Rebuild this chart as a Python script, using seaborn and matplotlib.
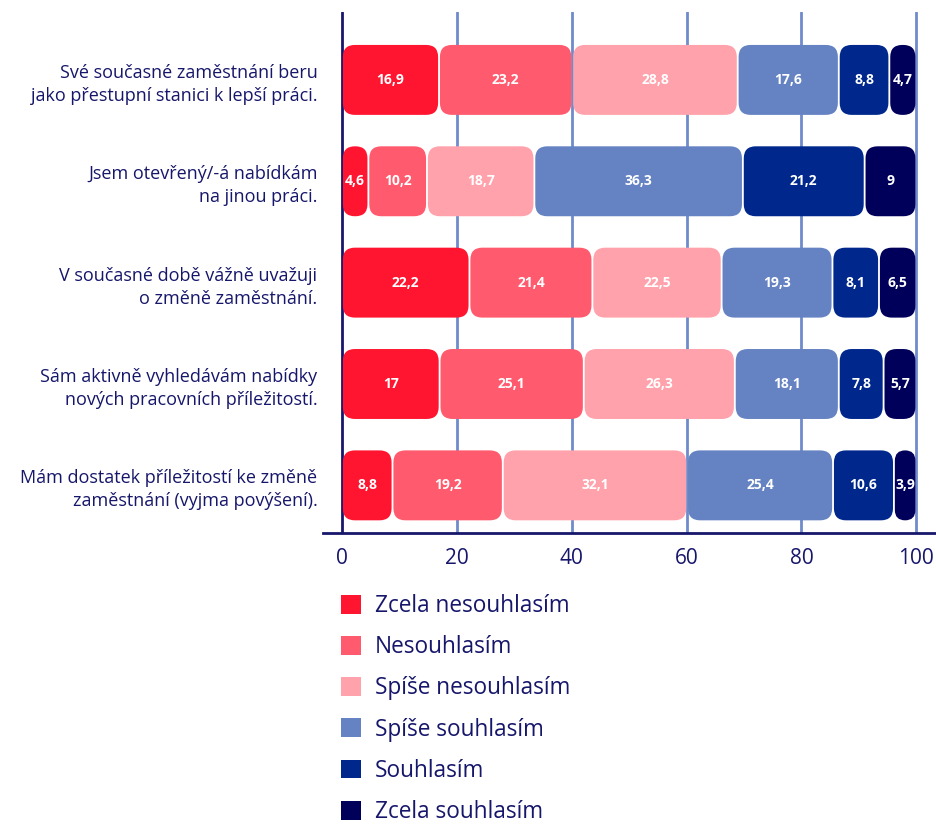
import matplotlib
matplotlib.use("Agg")
import matplotlib.pyplot as plt
from matplotlib.patches import FancyBboxPatch, Patch
import seaborn as sns
import pandas as pd
import numpy as np

categories = [
    "Své současné zaměstnání beru\njako přestupní stanici k lepší práci.",
    "Jsem otevřený/-á nabídkám\nna jinou práci.",
    "V současné době vážně uvažuji\no změně zaměstnání.",
    "Sám aktivně vyhledávám nabídky\nnových pracovních příležitostí.",
    "Mám dostatek příležitostí ke změně\nzaměstnání (vyjma povýšení).",
]
series = ["Zcela nesouhlasím", "Nesouhlasím", "Spíše nesouhlasím",
          "Spíše souhlasím", "Souhlasím", "Zcela souhlasím"]
zcela_nesouhlasim = [16.9, 4.6, 22.2, 17.0, 8.8]
nesouhlasim = [23.2, 10.2, 21.4, 25.1, 19.2]
spise_nesouhlasim = [28.8, 18.7, 22.5, 26.3, 32.1]
spise_souhlasim = [17.6, 36.3, 19.3, 18.1, 25.4]
souhlasim = [8.8, 21.2, 8.1, 7.8, 10.6]
zcela_souhlasim = [4.7, 9.0, 6.5, 5.7, 3.9]
values = [zcela_nesouhlasim, nesouhlasim, spise_nesouhlasim,
          spise_souhlasim, souhlasim, zcela_souhlasim]
colors = ["#FF1530", "#FF5A6D", "#FFA2AC", "#6583C2", "#00288C", "#00005A"]
xticks = [0, 20, 40, 60, 80, 100]

NAVY = "#16166B"
GRID = "#6F8BCB"

sns.set_theme(style="white")
plt.rcParams["font.family"] = ["Open Sans", "DejaVu Sans"]

fig = plt.figure(figsize=(9.37, 8.25), dpi=100)
ax = fig.add_axes([323 / 937, 1 - 533 / 825, 614 / 937, 521 / 825])

# cumulative stacked values drawn via seaborn
cum = np.cumsum(np.array(values), axis=0)
seg_patches = []
bar_h = 0.69
for i in range(len(series)):
    df = pd.DataFrame({"cat": categories, "val": cum[i]})
    n0 = len(ax.patches)
    sns.barplot(data=df, x="val", y="cat", orient="h", color=colors[i],
                width=bar_h, ax=ax, order=categories, saturation=1)
    seg_patches.append(list(ax.patches[n0:]))

# replace rectangles with rounded segments
px_per_x = 574.0 / 100.0
px_per_y = 101.25
rad_px = 12.0
gap = 0.16
new = []
for i, plist in enumerate(seg_patches):
    for j, p in enumerate(plist):
        right = p.get_x() + p.get_width()
        left = 0.0 if i == 0 else (seg_patches[i - 1][j].get_x() + seg_patches[i - 1][j].get_width())
        y = p.get_y()
        h = p.get_height()
        x0 = left + gap
        w = (right - left) - 2 * gap
        r = min(rad_px / px_per_x, w / 2.0)
        aspect = (rad_px / px_per_y) / (rad_px / px_per_x)
        fb = FancyBboxPatch((x0, y), w, h,
                            boxstyle=f"round,pad=0,rounding_size={r}",
                            mutation_aspect=aspect,
                            facecolor=colors[i], edgecolor="none", zorder=3)
        new.append(fb)
        val = values[i][j]
        txt = (f"{val:g}").replace(".", ",")
        ax.text(left + (right - left) / 2, y + h / 2, txt, ha="center", va="center",
                color="white", fontsize=10, fontweight="bold", zorder=4)
for plist in seg_patches:
    for p in plist:
        p.remove()
for fb in new:
    ax.add_patch(fb)

ax.set_xlim(-3.3, 103.6)
ax.set_ylim(4.47, -0.67)

for xv in xticks[1:]:
    ax.axvline(xv, color=GRID, lw=2, zorder=1)
ax.axvline(0, color=NAVY, lw=2, zorder=2)

for s in ["top", "right", "left"]:
    ax.spines[s].set_visible(False)
ax.spines["bottom"].set_color(NAVY)
ax.spines["bottom"].set_linewidth(2)

ax.set_xticks(xticks)
ax.set_xticklabels([str(t) for t in xticks])
ax.set_xlabel("")
ax.set_ylabel("")
ax.tick_params(axis="x", length=0, pad=11, labelsize=15, labelcolor=NAVY)
ax.tick_params(axis="y", length=0, pad=4, labelsize=13, labelcolor=NAVY)
for lab in ax.get_yticklabels():
    lab.set_linespacing(1.35)
ax.grid(False)

handles = [Patch(facecolor=c, edgecolor="none") for c in colors]
fig.legend(handles, series, loc="upper left", bbox_to_anchor=(341 / 937, 1 - 594 / 825),
           frameon=False, fontsize=16.3, handlelength=0.89, handleheight=0.89,
           handletextpad=0.6, labelspacing=0.76, borderpad=0, borderaxespad=0,
           labelcolor=NAVY)

fig.savefig("out.png", dpi=100)
